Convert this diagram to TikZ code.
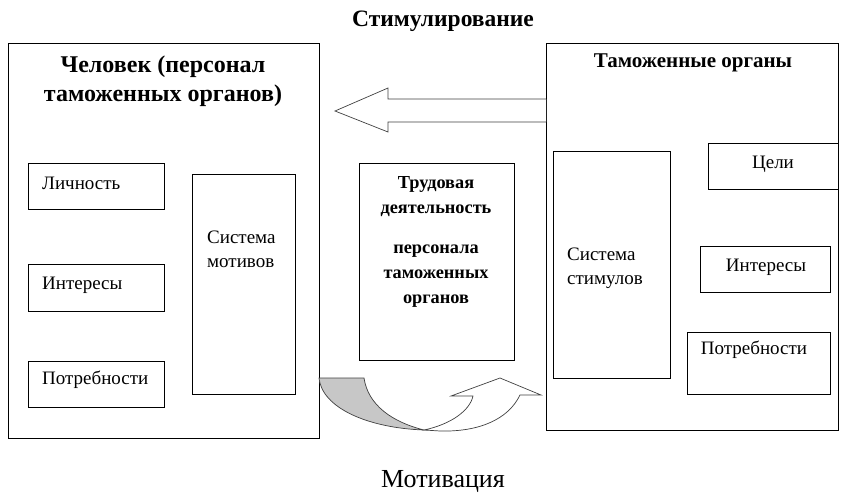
\documentclass[tikz,border=0pt]{standalone}
\usepackage{fontspec}
\setmainfont{Liberation Serif}
\begin{document}
\begin{tikzpicture}[x=1pt,y=-1pt,
  frame/.style={draw,line width=0.9pt},
  box/.style={draw,line width=0.8pt},
  txt/.style={inner sep=0pt,font=\fontsize{19}{22}\selectfont},
  btxt/.style={inner sep=0pt,font=\fontsize{18.3}{25}\selectfont\bfseries,align=center},
  arrowline/.style={draw=black!75,line width=0.7pt}]
\useasboundingbox (0,0) rectangle (849,498);
% big frames
\draw[frame] (8,43) rectangle (319,438);
\draw[frame] (546,43) rectangle (838,430);
% left frame title
\node[inner sep=0pt,align=center,font=\fontsize{24}{29}\selectfont\bfseries] (ltitle) at (163,81.5) {Человек (персонал\\таможенных органов)};
% left boxes
\draw[box] (28,163) rectangle (164,209);
\node[txt,anchor=west] (lich) at (42,183) {Личность};
\draw[box] (28,264) rectangle (164,311);
\node[txt,anchor=west] (lint) at (42,285) {Интересы};
\draw[box] (28,361) rectangle (164,407);
\node[txt,anchor=west] (lpot) at (42,380) {Потребности};
\draw[box] (192,174) rectangle (295,394);
\node[txt,anchor=west,align=left,font=\fontsize{19}{24}\selectfont] (lsys) at (207,249) {Система\\мотивов};
% right frame
\node[inner sep=0pt,font=\fontsize{21}{24}\selectfont\bfseries] (rtitle) at (693,63) {Таможенные органы};
\draw[box] (708,143) rectangle (838,189);
\node[txt] (rcel) at (773,164) {Цели};
\draw[box] (553,151) rectangle (670,378);
\node[txt,anchor=west,align=left,font=\fontsize{19}{24}\selectfont] (rsys) at (567,268.5) {Система\\стимулов};
\draw[box] (700,246) rectangle (830,292);
\node[txt] (rint) at (766,267) {Интересы};
\draw[box] (687,332) rectangle (830,394);
\node[txt] (rpot) at (754,350) {Потребности};
% middle box
\draw[box] (359,163) rectangle (514,360);
\node[btxt] (mid1) at (436,197) {Трудовая\\деятельность};
\node[btxt] (mid2) at (436,276) {персонала\\таможенных\\органов};
% top labels
\node[inner sep=0pt,font=\fontsize{23.5}{26}\selectfont\bfseries] (stim) at (443,21) {Стимулирование};
\node[inner sep=0pt,font=\fontsize{26}{28}\selectfont] (motiv) at (443,481) {Мотивация};
% hollow left arrow
\draw[arrowline,fill=white] (546,99) -- (388,99) -- (388,88) -- (335,111) -- (388,132) -- (388,122) -- (546,122);
% curved arrow: gray band
\draw[arrowline,fill=black!22] (319,378) -- (364,378)
  .. controls (368,405) and (392,422) .. (424,430)
  .. controls (368,428) and (322,408) .. (319,378) -- cycle;
% curved arrow: white part with head
\draw[arrowline,fill=white] (424,430)
  .. controls (452,424) and (470,410) .. (473,396) -- (451,396) -- (500,378) -- (541,395) -- (520,395)
  .. controls (508,420) and (478,432) .. (440,431) -- (424,430) -- cycle;
\end{tikzpicture}
\end{document}
